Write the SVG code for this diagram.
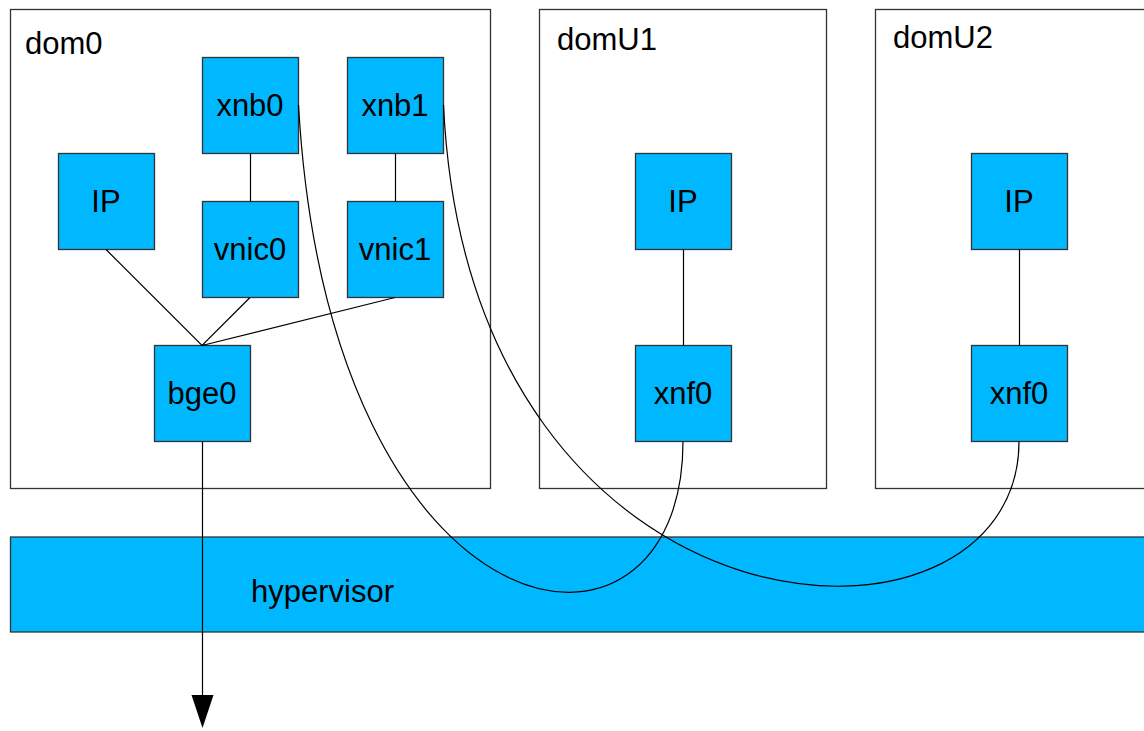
<svg xmlns="http://www.w3.org/2000/svg" width="1144" height="731" viewBox="0 0 1144 731">
<style>
.dom{fill:#fff;stroke:#333;stroke-width:1.3}
.n{fill:#00b8ff;stroke:#333;stroke-width:1.3}
.t{font-family:"Liberation Sans",Arial,sans-serif;font-size:31px;fill:#000}
.c{text-anchor:middle}
.l{fill:none;stroke:#000;stroke-width:1.2}
</style>
<rect width="1144" height="731" fill="#fff"/>
<g id="dom0"><rect class="dom" x="10.5" y="9.5" width="480" height="479"/><text class="t" x="25" y="54">dom0</text></g>
<g id="domU1"><rect class="dom" x="539.5" y="9.5" width="287" height="479"/><text class="t" x="557" y="50">domU1</text></g>
<g id="domU2"><rect class="dom" x="875.5" y="9.5" width="300" height="479"/><text class="t" x="893" y="48">domU2</text></g>
<g id="hypervisor"><rect class="n" x="10.5" y="537" width="1160" height="95"/><text class="t" x="251" y="602">hypervisor</text></g>
<g id="xnb0"><rect class="n" x="202.5" y="57.5" width="96" height="96"/><text class="t c" x="250" y="116">xnb0</text></g>
<g id="xnb1"><rect class="n" x="347.5" y="57.5" width="96" height="96"/><text class="t c" x="395" y="116">xnb1</text></g>
<g id="ip0"><rect class="n" x="58.5" y="153.5" width="96" height="96"/><text class="t c" x="106" y="212">IP</text></g>
<g id="vnic0"><rect class="n" x="202.5" y="201.5" width="96" height="96"/><text class="t c" x="250" y="260">vnic0</text></g>
<g id="vnic1"><rect class="n" x="347.5" y="201.5" width="96" height="96"/><text class="t c" x="395" y="260">vnic1</text></g>
<g id="bge0"><rect class="n" x="154.5" y="345.5" width="96" height="96"/><text class="t c" x="202" y="404">bge0</text></g>
<g id="ip1"><rect class="n" x="635.5" y="153.5" width="96" height="96"/><text class="t c" x="683" y="212">IP</text></g>
<g id="xnf0a"><rect class="n" x="635.5" y="345.5" width="96" height="96"/><text class="t c" x="683" y="404">xnf0</text></g>
<g id="ip2"><rect class="n" x="971.5" y="153.5" width="96" height="96"/><text class="t c" x="1019" y="212">IP</text></g>
<g id="xnf0b"><rect class="n" x="971.5" y="345.5" width="96" height="96"/><text class="t c" x="1019" y="404">xnf0</text></g>
<g id="connectors">
<path class="l" d="M250.5,153.5 V201.5"/>
<path class="l" d="M395.5,153.5 V201.5"/>
<path class="l" d="M106,249.5 L202,345.5 L250,297.5 M202,345.5 L395,297.5"/>
<path class="l" d="M683.5,249.5 V345.5"/>
<path class="l" d="M1019.5,249.5 V345.5"/>
<path class="l" d="M202.5,441.5 V696"/>
<polygon points="191.5,695 213.5,695 202.5,728" fill="#000"/>
<path class="l" d="M298.5,105 C330,650 683,700 683,441.5"/>
<path class="l" d="M443.5,105 C470,660 1019,680 1019,441.5"/>
</g>
</svg>
